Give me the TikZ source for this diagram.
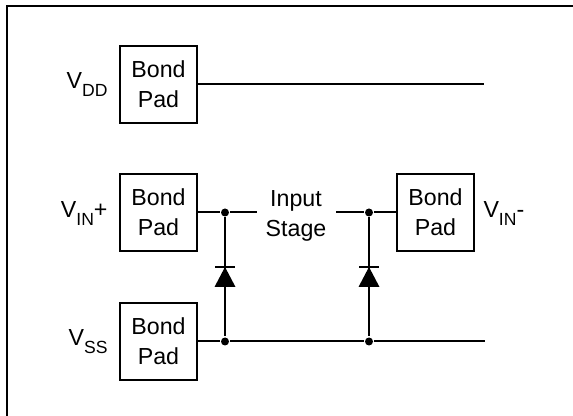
\documentclass[tikz,border=0pt]{standalone}
\usepackage{fontspec}
\setmainfont{Liberation Sans}
\usetikzlibrary{positioning}
\newcommand{\vsub}[1]{V\raisebox{-4pt}{\fontsize{10}{12}\selectfont #1}}

\begin{document}
\begin{tikzpicture}[
    line width=0.04cm,
    pad/.style={rectangle, draw, minimum size=1.54cm, inner sep=0pt, align=center, font=\fontsize{13.2}{17}\selectfont},
    lbl/.style={inner sep=0pt, font=\fontsize{13.2}{17}\selectfont},
    junction/.style={circle, fill, inner sep=0pt, minimum size=0.16cm}
  ]
  \useasboundingbox (0,0) rectangle (11.46,-8.32);

  % Cornice
  \coordinate (FL) at (0.14,-8.32);
  \coordinate (FT) at (0.14,-0.12);
  \coordinate (FR) at (11.46,-0.12);
  \draw (FL) -- (FT) -- (FR);

  % Piazzole
  \node[pad] (PDD) at (3.17,-1.69) {Bond\\Pad};
  \node[pad] (PIP) at (3.17,-4.25) {Bond\\Pad};
  \node[pad] (PSS) at (3.17,-6.83) {Bond\\Pad};
  \node[pad] (PIN) at (8.71,-4.25) {Bond\\Pad};

  % Etichette
  \node[lbl, anchor=base east] (LDD) at (2.17,-1.78) {\vsub{DD}};
  \node[lbl, anchor=base east] (LIP) at (2.17,-4.36) {\vsub{IN}+};
  \node[lbl, anchor=base east] (LSS) at (2.17,-6.92) {\vsub{SS}};
  \node[lbl, anchor=base west] (LIN) at (9.65,-4.36) {\vsub{IN}-};
  \node[lbl, align=center] (IS) at (5.92,-4.31) {Input\\Stage};

  % Nodi
  \node[junction] (J1) at (4.5,-4.25) {};
  \node[junction] (J2) at (7.38,-4.25) {};
  \node[junction] (J3) at (4.5,-6.83) {};
  \node[junction] (J4) at (7.38,-6.83) {};
  \coordinate (EDD) at (9.68,-1.69);
  \coordinate (ESS) at (9.7,-6.83);
  \coordinate (IL) at (5.14,-4.25);
  \coordinate (IR) at (6.72,-4.25);

  % Diodi
  \coordinate (D1) at (4.5,-5.34);
  \coordinate (D2) at (7.38,-5.34);
  \foreach \d in {D1,D2} {
    \fill (\d) -- ++(-0.21,-0.4) -- ++(0.42,0) -- cycle;
    \draw ([xshift=-0.2cm]\d) -- ([xshift=0.2cm]\d);
  }

  % Collegamenti
  \draw (PDD) -- (EDD);
  \draw (PIP) -- (J1) -- (IL);
  \draw (IR) -- (J2) -- (PIN);
  \draw (PSS) -- (J3) -- (J4) -- (ESS);
  \draw (J1) -- (J3);
  \draw (J2) -- (J4);
\end{tikzpicture}
\end{document}
